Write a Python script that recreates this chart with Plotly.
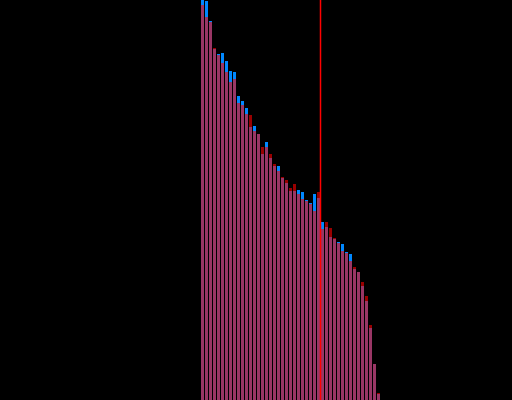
import plotly.graph_objects as go

# bar tops (pixel rows from top, 400 = baseline)
blue_top = [0, 1, 21, 49, 54, 53, 61, 71, 72, 96, 101, 108, 127, 126, 134,
            154, 142, 158, 166, 166, 178, 183, 191, 191, 190, 192, 200, 203, 194, 198,
            222, 227, 237, 239, 242, 244, 252, 254, 269, 272, 286, 301, 328, 364, 394]
red_top = [5, 17, 22, 48, 55, 63, 72, 82, 79, 103, 105, 114, 115, 131, 134,
           147, 147, 154, 164, 171, 177, 180, 188, 184, 194, 199, 201, 204, 211, 192,
           229, 222, 228, 238, 243, 251, 253, 261, 267, 272, 282, 296, 325, 364, 393]

blue_vals = [400 - v for v in blue_top]
red_vals = [400 - v for v in red_top]
idx = list(range(len(blue_vals)))
split_at = 29.5

fig = go.Figure()
fig.add_trace(go.Bar(x=idx, y=blue_vals, width=0.75, marker=dict(color='#0088ff', line=dict(width=0))))
fig.add_trace(go.Bar(x=idx, y=red_vals, width=0.75, marker=dict(color='#ff0000', line=dict(width=0)),
                     opacity=0.6))
fig.add_vline(x=split_at, line=dict(color='#ff0000', width=1.5))

fig.update_layout(
    width=512, height=400,
    margin=dict(l=0, r=0, t=0, b=0),
    paper_bgcolor='black', plot_bgcolor='black',
    barmode='overlay', showlegend=False,
    xaxis=dict(range=[-50.625, 77.375], visible=False, showgrid=False, zeroline=False),
    yaxis=dict(range=[0, 400], visible=False, showgrid=False, zeroline=False),
)
# drop the page's default body margin so the plot fills the window
fig.write_html("out.html", config={'displayModeBar': False},
               post_script="document.body.style.margin='0';document.body.style.background='black';")
